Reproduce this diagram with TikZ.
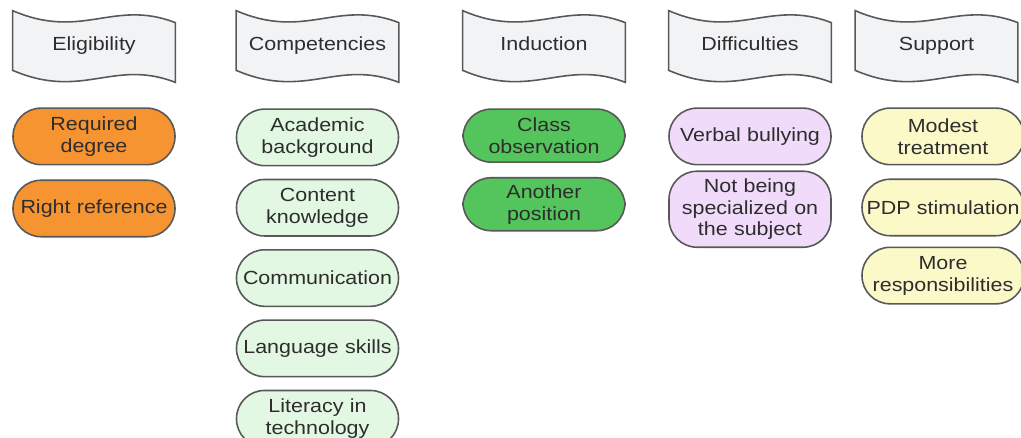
\documentclass[tikz,border=0pt]{standalone}
\usepackage{fontspec}
\setmainfont{Liberation Sans}[FakeStretch=1.13]
\usetikzlibrary{positioning,backgrounds}

\definecolor{headfill}{RGB}{242,243,245}
\definecolor{linegray}{RGB}{88,88,88}
\definecolor{textgray}{RGB}{45,45,45}
\definecolor{orangefill}{RGB}{247,148,50}
\definecolor{mintfill}{RGB}{226,248,226}
\definecolor{greenfill}{RGB}{84,196,92}
\definecolor{lilacfill}{RGB}{241,219,250}
\definecolor{creamfill}{RGB}{252,249,201}

\begin{document}
\begin{tikzpicture}[
  node distance=0.245cm,
  head/.style={minimum width=3.24cm, minimum height=1.42cm, inner sep=0pt, text height=0.75em, text depth=0.25em, font=\fontsize{10.8}{12.4}\selectfont, text=textgray},
  wave/.style={draw=linegray, line width=0.9pt, fill=headfill},
  pill/.style={draw=linegray, line width=0.9pt, rounded corners=0.56cm, align=center, text width=3.18cm, inner xsep=0.03cm, minimum height=1.13cm, font=\fontsize{10.8}{12.4}\selectfont, text=textgray}
]
\useasboundingbox (0,0) rectangle (20.42,-8.74);

% headers
\node[head] (elig) at (1.88,-0.93) {Eligibility};
\node[head] (comp) at (6.35,-0.93) {Competencies};
\node[head] (ind) at (10.88,-0.93) {Induction};
\node[head] (diff) at (15.00,-0.93) {Difficulties};
\node[head] (supp) at (18.73,-0.93) {Support};

\begin{scope}[on background layer]
\foreach \n in {elig,comp,ind,diff,supp}
  \draw[wave] (\n.north west) .. controls +(1.4,-0.6) and +(-1.24,0.48) .. ([yshift=-0.24cm]\n.north east)
    -- (\n.south east) .. controls +(-1.24,0.48) and +(1.4,-0.6) .. ([yshift=0.24cm]\n.south west) -- cycle;
\end{scope}

% eligibility
\node[pill, fill=orangefill, below=0.5cm of elig] (degree) {Required\\degree};
\node[pill, fill=orangefill, below=0.28cm of degree] (reference) {Right reference};

% competencies
\node[pill, fill=mintfill, below=0.52cm of comp] (academic) {Academic\\background};
\node[pill, fill=mintfill, below=of academic] (content) {Content\\knowledge};
\node[pill, fill=mintfill, below=of content] (communication) {Communication};
\node[pill, fill=mintfill, below=of communication] (language) {Language skills};
\node[pill, fill=mintfill, below=of language] (literacy) {Literacy in\\technology};

% induction
\node[pill, fill=greenfill, minimum height=1.06cm, below=0.52cm of ind] (classobs) {Class\\observation};
\node[pill, fill=greenfill, minimum height=1.06cm, below=0.28cm of classobs] (another) {Another\\position};

% difficulties
\node[pill, fill=lilacfill, below=0.5cm of diff] (bullying) {Verbal bullying};
\node[pill, fill=lilacfill, minimum height=1.52cm, below=0.1cm of bullying] (specialized) {Not being\\specialized on\\the subject};

% support
\node[pill, fill=creamfill, below=0.5cm of supp, xshift=0.13cm] (modest) {Modest\\treatment};
\node[pill, fill=creamfill, below=0.26cm of modest] (pdp) {PDP stimulation};
\node[pill, fill=creamfill, below=0.2cm of pdp] (moreresp) {More\\responsibilities};
\end{tikzpicture}
\end{document}
